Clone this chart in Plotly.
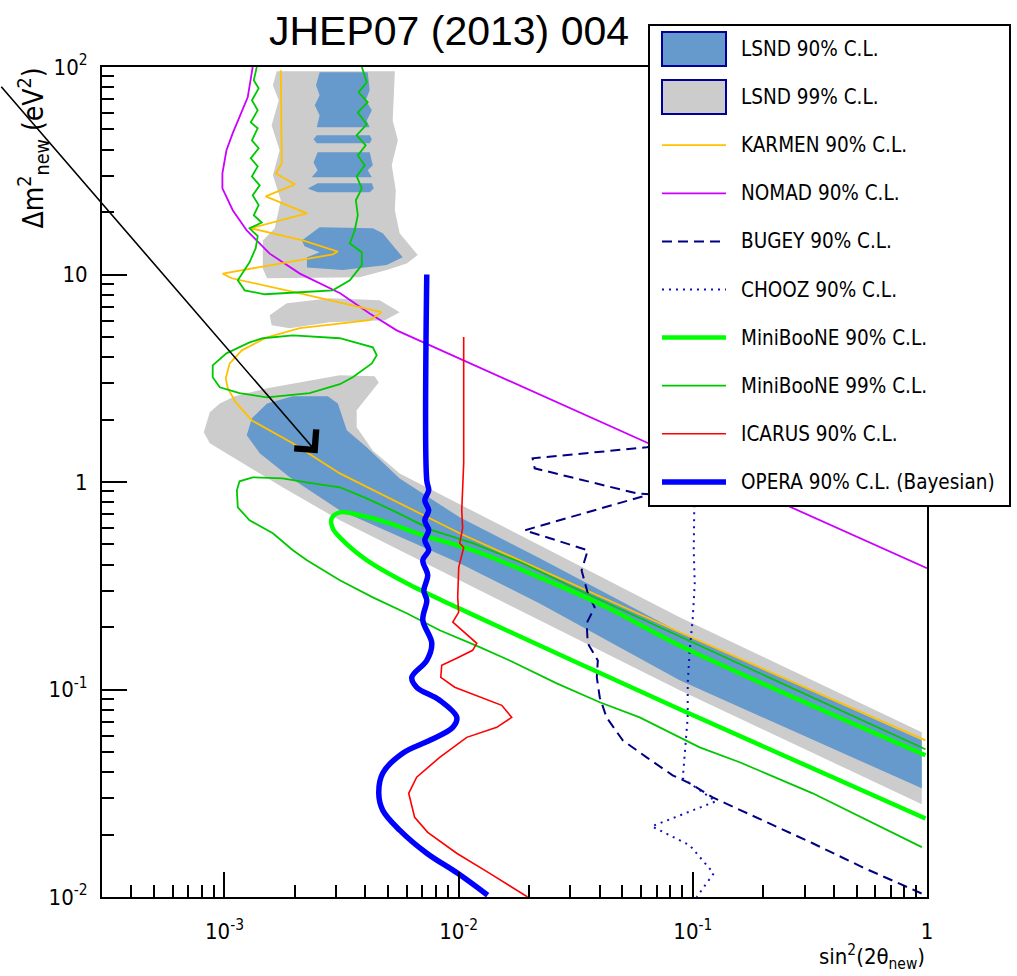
import math
import plotly.graph_objects as go

# ---------------- data (sin^2(2theta), dm^2 [eV^2]) ----------------
lsnd99_band_x = [8.16e-4, 8.66e-4, 9.55e-4, 1.106e-3, 1.52e-3, 2.10e-3, 3.11e-3, 4.38e-3, 4.56e-3, 3.67e-3,
                 3.67e-3, 4.30e-3, 5.60e-3, 0.0101, 0.0222, 0.0879, 0.95, 0.95, 0.0879, 0.0222,
                 0.0101, 3.11e-3, 1.77e-3, 1.085e-3, 8.66e-4]
lsnd99_band_y = [1.735, 2.17, 2.39, 2.59, 2.83, 3.02, 3.27, 3.23, 3.02, 2.22,
                 1.835, 1.42, 1.10, 0.781, 0.495, 0.223, 0.0622, 0.0280, 0.0991, 0.2156,
                 0.336, 0.654, 0.943, 1.315, 1.536]
lsnd99_col_x = [1.672e-3, 5.34e-3, 5.23e-3, 5.50e-3, 5.18e-3, 5.39e-3, 5.34e-3, 5.60e-3, 6.69e-3, 6.0e-3,
                4.93e-3, 3.78e-3, 1.52e-3, 1.458e-3, 1.458e-3, 1.64e-3, 1.74e-3, 1.61e-3, 1.72e-3, 1.59e-3,
                1.706e-3, 1.61e-3]
lsnd99_col_y = [95.3, 95.3, 55.3, 44.3, 33.6, 25.5, 20.4, 15.8, 12.4, 11.3,
                10.5, 9.69, 9.59, 10.7, 14.6, 16.7, 22.8, 30.1, 39.7, 52.4,
                69.1, 81.6]
lsnd99_blob_x = [1.56e-3, 1.845e-3, 2.82e-3, 4.60e-3, 5.60e-3, 4.84e-3, 2.82e-3, 1.90e-3, 1.59e-3]
lsnd99_blob_y = [6.36, 7.27, 7.68, 7.51, 6.58, 6.02, 5.89, 5.51, 5.69]

lsnd90_band_x = [1.245e-3, 1.31e-3, 1.52e-3, 1.957e-3, 2.76e-3, 3.05e-3, 3.33e-3, 4.05e-3, 5.60e-3, 0.0101,
                 0.0222, 0.0879, 0.95, 0.95, 0.0879, 0.0222, 0.0101, 3.11e-3, 1.90e-3, 1.415e-3]
lsnd90_band_y = [1.68, 2.03, 2.39, 2.59, 2.59, 2.39, 1.775, 1.47, 1.04, 0.676,
                 0.429, 0.1887, 0.0569, 0.0334, 0.1107, 0.260, 0.406, 0.730, 1.053, 1.375]
lsnd90_a_x = [2.55e-3, 4.09e-3, 4.17e-3, 4.01e-3, 4.26e-3, 4.05e-3, 4.17e-3, 2.48e-3, 2.55e-3, 2.43e-3, 2.55e-3, 2.46e-3]
lsnd90_a_y = [94.3, 94.3, 77.2, 69.1, 61.9, 55.3, 51.2, 51.2, 58.5, 65.4, 73.0, 81.6]
lsnd90_s1_x = [2.48e-3, 4.17e-3, 4.26e-3, 4.17e-3, 2.48e-3, 2.40e-3]
lsnd90_s1_y = [46.9, 46.9, 44.8, 42.9, 42.9, 44.8]
lsnd90_c_x = [2.50e-3, 4.17e-3, 4.30e-3, 4.09e-3, 4.26e-3, 2.36e-3, 2.50e-3, 2.40e-3]
lsnd90_c_y = [38.8, 38.8, 33.6, 31.8, 29.4, 29.4, 31.8, 34.7]
lsnd90_s2_x = [2.50e-3, 4.26e-3, 4.34e-3, 4.17e-3, 2.50e-3, 2.27e-3]
lsnd90_s2_y = [27.5, 27.5, 26.0, 24.9, 24.9, 26.0]
lsnd90_b_x = [2.14e-3, 2.55e-3, 4.30e-3, 4.74e-3, 5.77e-3, 4.93e-3, 3.20e-3, 2.25e-3, 2.25e-3, 2.55e-3, 2.20e-3]
lsnd90_b_y = [14.6, 16.9, 16.7, 15.8, 12.1, 11.1, 10.5, 10.8, 12.1, 12.8, 13.7]

karmen_x = [1.74e-3, 1.757e-3, 1.656e-3, 2.0e-3, 1.50e-3, 2.25e-3, 1.295e-3, 2.16e-3, 3.05e-3, 2.90e-3,
            9.83e-4, 1.074e-3, 2.10e-3, 4.69e-3, 4.17e-3, 2.10e-3, 1.52e-3, 1.186e-3, 1.053e-3, 1.013e-3,
            1.033e-3, 1.118e-3, 1.31e-3, 1.957e-3, 3.11e-3, 1.01e-2, 8.79e-2, 0.985]
karmen_y = [96.4, 34.4, 30.7, 27.2, 23.8, 19.7, 16.7, 14.6, 12.9, 12.5,
            10.1, 9.59, 8.12, 6.58, 6.02, 5.51, 4.98, 4.31, 3.73, 3.16,
            2.83, 2.42, 1.98, 1.536, 1.10, 0.566, 0.1887, 0.0569]

nomad_x = [1.32e-3, 1.257e-3, 1.085e-3, 1.02e-3, 9.8e-4, 9.8e-4, 1.085e-3, 1.245e-3, 1.56e-3, 2.10e-3,
           3.12e-3, 4.17e-3, 5.44e-3, 1.0]
nomad_y = [100, 71.4, 48.0, 39.7, 30.7, 26.0, 20.4, 16.3, 12.6, 10.1,
           8.12, 6.49, 5.38, 0.384]

bugey_x = [0.107, 0.0635, 0.0207, 0.02113, 0.0575, 0.0655, 0.01915, 0.0356, 0.0335, 0.0356,
           0.0381, 0.0352, 0.0356, 0.0393, 0.0389, 0.04004, 0.0428, 0.0502, 0.0635, 0.0820,
           0.0970, 0.1216, 0.199, 0.325, 0.531, 0.818, 0.985]
bugey_y = [1.59, 1.47, 1.30, 1.164, 0.882, 0.872, 0.585, 0.469, 0.375, 0.291,
           0.249, 0.2085, 0.167, 0.138, 0.1145, 0.0918, 0.0734, 0.0569, 0.0471, 0.0386,
           0.0353, 0.0302, 0.0234, 0.01815, 0.0139, 0.01113, 0.0102]

chooz_x = [0.1019, 0.1009, 0.1019, 0.1, 0.0970, 0.0951, 0.0951, 0.0924, 0.0906, 0.1253,
           0.0668, 0.0970, 0.1228, 0.1039]
chooz_y = [1.14, 0.469, 0.325, 0.223, 0.1545, 0.107, 0.0734, 0.0509, 0.0373, 0.0289,
           0.0219, 0.01775, 0.0130, 0.0100]

mb90_x = [0.985, 0.0879, 0.0428, 0.0222, 0.01148, 7.03e-3, 5.08e-3, 3.78e-3, 3.11e-3, 2.87e-3,
          2.90e-3, 3.11e-3, 4.05e-3, 6.0e-3, 9.82e-3, 1.60e-2, 2.98e-2, 0.0879, 0.985]
mb90_y = [0.0482, 0.163, 0.249, 0.347, 0.469, 0.554, 0.632, 0.691, 0.714, 0.668,
          0.598, 0.541, 0.420, 0.325, 0.249, 0.193, 0.140, 0.0803, 0.0239]

mb99_low_x = [0.985, 0.0879, 0.0502, 0.0307, 0.01878, 0.01148, 7.75e-3, 5.44e-3, 4.05e-3, 3.11e-3,
              2.38e-3, 1.77e-3, 1.32e-3, 1.16e-3, 1.13e-3, 1.14e-3, 1.28e-3, 1.61e-3, 1.96e-3, 2.25e-3,
              3.11e-3, 4.30e-3, 6.0e-3, 8.30e-3, 0.0123, 0.01652, 0.02624, 0.04004, 0.0593, 0.0879,
              0.107, 0.1585, 0.325, 0.95]
mb99_low_y = [0.0515, 0.180, 0.241, 0.311, 0.406, 0.507, 0.585, 0.714, 0.834, 0.943,
              0.986, 1.042, 1.053, 1.008, 0.912, 0.755, 0.654, 0.566, 0.469, 0.420,
              0.336, 0.278, 0.233, 0.193, 0.160, 0.138, 0.107, 0.0868, 0.0734, 0.0588,
              0.0526, 0.0446, 0.0316, 0.0174]
mb99_mid_x = [1.458e-3, 1.96e-3, 3.11e-3, 4.30e-3, 4.47e-3, 4.26e-3, 3.53e-3, 3.11e-3, 2.31e-3, 1.52e-3,
              1.16e-3, 9.55e-4, 8.91e-4, 8.91e-4, 1.02e-3, 1.28e-3, 1.458e-3]
mb99_mid_y = [4.93, 5.09, 4.93, 4.46, 4.08, 3.73, 3.20, 2.96, 2.68, 2.56,
              2.68, 2.86, 3.20, 3.65, 4.17, 4.71, 4.93]
mb99_top_x = [1.374e-3, 1.334e-3, 1.40e-3, 1.31e-3, 1.387e-3, 1.295e-3, 1.387e-3, 1.31e-3, 1.40e-3, 1.295e-3,
              1.387e-3, 1.31e-3, 1.415e-3, 1.32e-3, 1.40e-3, 1.334e-3, 1.443e-3, 1.28e-3, 1.387e-3, 1.36e-3,
              1.28e-3, 1.14e-3, 1.22e-3, 1.486e-3, 2.10e-3, 2.90e-3, 3.43e-3, 3.86e-3, 3.86e-3, 3.43e-3,
              3.60e-3, 3.71e-3, 3.64e-3, 3.86e-3, 3.67e-3, 3.97e-3, 3.71e-3, 4.01e-3, 3.67e-3, 4.05e-3,
              3.71e-3, 4.09e-3, 3.74e-3, 4.05e-3, 3.86e-3]
mb99_top_y = [100, 86.3, 78.9, 69.1, 61.9, 54.1, 50.7, 44.3, 40.6, 36.3,
              33.2, 29.7, 26.9, 24.1, 21.6, 19.3, 17.8, 16.7, 15.3, 13.4,
              11.45, 9.38, 8.39, 8.03, 8.21, 8.39, 9.38, 11.1, 12.8, 14.1,
              16.3, 19.3, 22.8, 26.0, 29.7, 33.6, 37.5, 41.9, 46.9, 52.9,
              60.5, 67.6, 75.5, 84.4, 100]

icarus_x = [1.051e-2, 1.051e-2, 1.031e-2, 1.04e-2, 1.011e-2, 1.051e-2, 1.001e-2, 9.91e-3, 1.0e-2, 9.44e-3,
            1.195e-2, 1.148e-2, 9.81e-3, 8.47e-3, 8.39e-3, 9.62e-3, 1.528e-2, 1.685e-2, 1.455e-2, 1.083e-2,
            8.30e-3, 6.62e-3, 6.12e-3, 6.49e-3, 7.38e-3, 9.81e-3, 1.358e-2, 1.97e-2]
icarus_y = [5.0, 1.23, 0.73, 0.60, 0.507, 0.484, 0.388, 0.278, 0.2355, 0.211,
            0.167, 0.1545, 0.1414, 0.131, 0.1145, 0.1025, 0.0839, 0.0734, 0.0657, 0.0588,
            0.0471, 0.0378, 0.0316, 0.0242, 0.0205, 0.01625, 0.0130, 0.0100]

opera_x = [7.31e-3, 7.31e-3, 7.45e-3, 7.17e-3, 7.45e-3, 7.17e-3, 7.45e-3, 7.17e-3, 7.45e-3, 7.03e-3,
           7.38e-3, 7.10e-3, 7.31e-3, 7.03e-3, 7.68e-3, 7.31e-3, 6.31e-3, 6.62e-3, 8.30e-3, 9.82e-3,
           9.44e-3, 7.53e-3, 5.77e-3, 4.74e-3, 4.56e-3, 4.74e-3, 5.60e-3, 7.31e-3, 9.91e-3, 1.33e-2]
opera_y = [10.0, 1.02, 0.912, 0.816, 0.730, 0.653, 0.585, 0.524, 0.469, 0.42,
           0.355, 0.30, 0.269, 0.216, 0.167, 0.138, 0.1145, 0.1025, 0.0887, 0.0734,
           0.0657, 0.0569, 0.0493, 0.0395, 0.0316, 0.0262, 0.0210, 0.01625, 0.0130, 0.0102]

x_tickvals = [1e-3, 1e-2, 1e-1, 1]
x_ticktext = ["10<sup>-3</sup>", "10<sup>-2</sup>", "10<sup>-1</sup>", "1"]
y_tickvals = [1e-2, 1e-1, 1, 10, 100]
y_ticktext = ["10<sup>-2</sup>", "10<sup>-1</sup>", "1", "10", "10<sup>2</sup>"]
legend_labels = ["LSND 90% C.L.", "LSND 99% C.L.", "KARMEN 90% C.L.", "NOMAD 90% C.L.",
                 "BUGEY 90% C.L.", "CHOOZ 90% C.L.", "MiniBooNE 90% C.L.", "MiniBooNE 99% C.L.",
                 "ICARUS 90% C.L.", "OPERA 90% C.L. (Bayesian)"]

# ---------------- styles ----------------
C90 = "#6699CC"
C99 = "#CCCCCC"
NARROW = "DejaVu Sans Condensed, Liberation Sans Narrow, sans-serif"
STY = {
    "KARMEN": dict(color="#FFC000", width=1.8),
    "NOMAD": dict(color="#CC00FF", width=1.8),
    "BUGEY": dict(color="#000080", width=2, dash="10px,6px"),
    "CHOOZ": dict(color="#1010C0", width=2, dash="2px,5px"),
    "MB90": dict(color="#00FF00", width=4.5),
    "MB99": dict(color="#00C800", width=1.8),
    "ICARUS": dict(color="#FF0000", width=1.6),
    "OPERA": dict(color="#0000FF", width=5.5),
}

W, H = 1017, 976
L, R, T, B = 102, 90, 67, 79
PW, PH = W - L - R, H - T - B


def pxx(p):
    return (p - L) / PW


def pxy(p):
    return (H - B - p) / PH


def join(*parts):
    xs, ys = [], []
    for px_, py_ in parts:
        xs += list(px_) + [None]
        ys += list(py_) + [None]
    return xs[:-1], ys[:-1]


fig = go.Figure()


def fill(xs, ys, color):
    fig.add_trace(go.Scatter(x=xs, y=ys, mode="lines", fill="toself", fillcolor=color,
                             line=dict(width=0, color=color), hoverinfo="skip", showlegend=False))


def line(xs, ys, style, shape="linear"):
    fig.add_trace(go.Scatter(x=xs, y=ys, mode="lines", line=dict(shape=shape, **style),
                             hoverinfo="skip", showlegend=False, connectgaps=False))


fill(lsnd99_band_x, lsnd99_band_y, C99)
fill(lsnd99_col_x, lsnd99_col_y, C99)
fill(lsnd99_blob_x, lsnd99_blob_y, C99)
fill(lsnd90_band_x, lsnd90_band_y, C90)
bx, by = join((lsnd90_a_x, lsnd90_a_y), (lsnd90_s1_x, lsnd90_s1_y), (lsnd90_c_x, lsnd90_c_y),
              (lsnd90_s2_x, lsnd90_s2_y), (lsnd90_b_x, lsnd90_b_y))
fill(bx, by, C90)

line(nomad_x, nomad_y, STY["NOMAD"])
line(karmen_x, karmen_y, STY["KARMEN"])
line(bugey_x, bugey_y, STY["BUGEY"])
line(chooz_x, chooz_y, STY["CHOOZ"])
mx, my = join((mb99_top_x, mb99_top_y), (mb99_mid_x, mb99_mid_y), (mb99_low_x, mb99_low_y))
line(mx, my, STY["MB99"])
line(mb90_x, mb90_y, STY["MB90"], "spline")
line(icarus_x, icarus_y, STY["ICARUS"])
line(opera_x, opera_y, STY["OPERA"], "spline")

# ---------------- manual legend ----------------
shapes = [dict(type="rect", xref="paper", yref="paper", x0=pxx(649), x1=pxx(1010), y0=pxy(506), y1=pxy(25),
               fillcolor="white", line=dict(color="black", width=2), layer="above")]
annotations = []
leg_styles = [("fill", C90), ("fill", C99), ("line", STY["KARMEN"]), ("line", STY["NOMAD"]),
              ("line", STY["BUGEY"]), ("line", STY["CHOOZ"]), ("line", STY["MB90"]),
              ("line", STY["MB99"]), ("line", STY["ICARUS"]), ("line", STY["OPERA"])]
for i, (lab, (kind, st)) in enumerate(zip(legend_labels, leg_styles)):
    cy = 49 + 48.1 * i
    if kind == "fill":
        shapes.append(dict(type="rect", xref="paper", yref="paper", x0=pxx(662), x1=pxx(726),
                           y0=pxy(cy + 17), y1=pxy(cy - 17), fillcolor=st,
                           line=dict(color="#000099", width=2), layer="above"))
    else:
        dash = st.get("dash", "solid")
        shapes.append(dict(type="line", xref="paper", yref="paper", x0=pxx(662), x1=pxx(726),
                           y0=pxy(cy), y1=pxy(cy),
                           line=dict(color=st["color"], width=st["width"], dash=dash), layer="above"))
    annotations.append(dict(text=lab, xref="paper", yref="paper", x=pxx(739), y=pxy(cy),
                            xanchor="left", yanchor="middle", showarrow=False,
                            font=dict(family=NARROW, size=20.5, color="black")))

# axis titles
annotations.append(dict(text="Δm<sup>2</sup><sub>new</sub> (eV<sup>2</sup>)", xref="paper", yref="paper",
                        x=pxx(34), y=pxy(66), xanchor="center", yanchor="top", textangle=-90,
                        showarrow=False, font=dict(family=NARROW, size=28, color="black")))
annotations.append(dict(text="sin<sup>2</sup>(2θ<sub>new</sub>)", xref="paper", yref="paper",
                        x=pxx(927), y=pxy(957), xanchor="right", yanchor="middle",
                        showarrow=False, font=dict(family=NARROW, size=22, color="black")))
# arrow
annotations.append(dict(text="", x=math.log10(2.5e-3), y=math.log10(1.375), xref="x", yref="y",
                        ax=-322, ay=-368, axref="pixel", ayref="pixel", showarrow=True,
                        arrowhead=4, arrowsize=3.5, arrowwidth=1.6, arrowcolor="black"))

minor_x = [k * 10 ** e for e in (-4, -3, -2, -1) for k in range(2, 10) if 3e-4 < k * 10 ** e < 1]
minor_y = [k * 10 ** e for e in (-2, -1, 0, 1) for k in range(2, 10)]

axis_common = dict(type="log", showgrid=False, zeroline=False, showline=True, linecolor="black",
                   linewidth=2, mirror=True, ticks="inside", ticklen=25, tickwidth=1.5,
                   tickcolor="black", tickmode="array",
                   tickfont=dict(family=NARROW, size=22, color="black"))

fig.update_xaxes(range=[math.log10(3e-4), 0], tickvals=x_tickvals, ticktext=x_ticktext,
                 minor=dict(tickmode="array", tickvals=minor_x, ticks="inside", ticklen=12,
                            tickwidth=1.5, tickcolor="black", showgrid=False),
                 ticklabelstandoff=14, **axis_common)
fig.update_yaxes(range=[-2, 2], tickvals=y_tickvals, ticktext=y_ticktext,
                 minor=dict(tickmode="array", tickvals=minor_y, ticks="inside", ticklen=12,
                            tickwidth=1.5, tickcolor="black", showgrid=False),
                 ticklabelstandoff=8, **axis_common)

fig.update_layout(
    width=W, height=H, autosize=False,
    margin=dict(l=L, r=R, t=T, b=B, pad=0),
    paper_bgcolor="white", plot_bgcolor="white",
    showlegend=False,
    title=dict(text="JHEP07 (2013) 004", x=449 / W, y=1 - 31 / H, xanchor="center", yanchor="middle",
               font=dict(family="Liberation Sans, Arial, sans-serif", size=41, color="black")),
    shapes=shapes, annotations=annotations,
)

fig.write_html("out.html")
